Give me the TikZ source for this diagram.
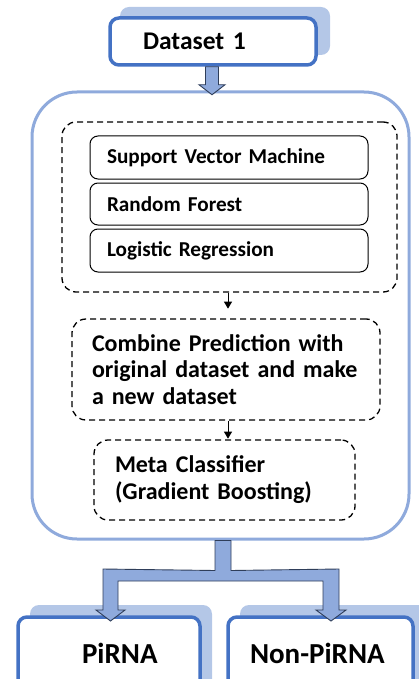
\documentclass[tikz,border=0pt]{standalone}
\usepackage{fontspec}
\setmainfont{Carlito}
\usetikzlibrary{calc,arrows.meta}
\definecolor{shadowblue}{HTML}{B4C7E7}
\definecolor{boxblue}{HTML}{4472C4}
\definecolor{lightblue}{HTML}{8FAADC}
\definecolor{arrowline}{HTML}{2F3E5A}
\begin{document}
\begin{tikzpicture}[x=1pt,y=-1pt,
  shadowbox/.style={fill=shadowblue, draw=none, rounded corners=9pt, inner sep=0pt},
  bluebox/.style={draw=boxblue, line width=3.5pt, fill=white, rounded corners=9pt, inner ysep=0pt, align=left, font=\fontsize{25.5}{30}\selectfont\bfseries},
  mainbox/.style={draw=lightblue, line width=3pt, rounded corners=45pt, inner sep=0pt},
  dashbox/.style={draw=black, line width=1.3pt, dash pattern=on 6pt off 4pt, rounded corners=14pt, inner sep=0pt},
  modelbox/.style={draw=black, line width=1pt, rounded corners=8pt, inner xsep=17pt, inner ysep=0pt, align=left, font=\fontsize{21.2}{24}\selectfont\bfseries},
  stepbox/.style={dashbox, align=left, font=\fontsize{24}{26.5}\selectfont\bfseries},
  blockarrow/.style={fill=lightblue, draw=arrowline, line width=0.9pt, line join=miter},
  smallarrow/.style={draw=black, line width=1pt, -{Triangle[length=7pt,width=8pt]}}
]
\useasboundingbox (0,0) rectangle (419,679);
\clip (0,0) rectangle (419,679);

% Dataset
\node[shadowbox, minimum width=210pt, minimum height=48pt] (dsshadow) at (225,31) {};
\node[bluebox, minimum width=206pt, minimum height=47pt, text width=140pt, inner xsep=33pt] (ds) at (213,41.5) {\mbox{Dataset 1}};

% main container
\node[mainbox, minimum width=377pt, minimum height=447pt] (main) at (220.5,315.5) {};

% block arrow dataset -> main
\coordinate (a1) at ($(ds.south)+(-1,0)$);
\draw[blockarrow] ($(a1)+(-6.5,0)$) -- ($(a1)+(6.5,0)$) -- ($(a1)+(6.5,18)$) -- ($(a1)+(13,18)$) -- ($(a1)+(0,28)$) -- ($(a1)+(-13,18)$) -- ($(a1)+(-6.5,18)$) -- cycle;

% base models group
\node[dashbox, minimum width=335pt, minimum height=170pt] (grp) at (229.5,207) {};
\node[modelbox, minimum width=278pt, minimum height=43pt, text width=244pt] (svm) at (229,157.5) {\mbox{Support Vector Machine}};
\node[modelbox, minimum width=278pt, minimum height=42pt, text width=244pt] (rf) at (229,204) {\mbox{Random Forest}};
\node[modelbox, minimum width=278pt, minimum height=43pt, text width=244pt] (lr) at (229,250.5) {\mbox{Logistic Regression}};

% combine step
\node[stepbox, minimum width=308pt, minimum height=101pt, text width=268pt, inner xsep=20pt] (comb) at (226,369.5) {\mbox{Combine Prediction with}\\\mbox{original dataset and make}\\\mbox{a new dataset}};

% meta classifier
\node[stepbox, minimum width=261pt, minimum height=80pt, text width=219pt, inner xsep=21pt, font=\fontsize{24}{27}\selectfont\bfseries] (meta) at (224.5,480) {\mbox{Meta Classifier}\\\mbox{(Gradient Boosting)}};

\draw[smallarrow] (grp.south -| 228,0) -- ++(0,16);
\draw[smallarrow] (comb.south -| 228,0) -- ++(0,18);

% outputs
\node[shadowbox, minimum width=182pt, minimum height=90pt] (pshadow) at (121,650) {};
\node[shadowbox, minimum width=190pt, minimum height=90pt] (nshadow) at (335,650) {};
\node[bluebox, minimum width=182pt, minimum height=72pt, text width=54pt, inner xsep=64pt, font=\fontsize{29}{32}\selectfont\bfseries] (pirna) at (109,653) {\mbox{PiRNA}};
\node[bluebox, minimum width=185pt, minimum height=72pt, text width=141pt, inner xsep=22pt, font=\fontsize{29}{32}\selectfont\bfseries] (non) at (320.5,653) {\mbox{Non-PiRNA}};

% split block arrow main -> outputs
\coordinate (s) at ($(main.south)+(2.5,0)$);
\coordinate (lp) at (110.5,621);
\coordinate (rp) at (331,621);
\draw[blockarrow] ($(s)+(-8,0)$) -- ($(s)+(8,0)$) -- ($(s)+(8,30)$) -- ($(rp)+(8,-52)$) -- ($(rp)+(8,-11)$) -- ($(rp)+(15,-11)$) -- (rp) -- ($(rp)+(-15,-11)$) -- ($(rp)+(-8,-11)$) -- ($(rp)+(-8,-40)$) -- ($(lp)+(7.5,-40)$) -- ($(lp)+(7.5,-11)$) -- ($(lp)+(14.5,-11)$) -- (lp) -- ($(lp)+(-14.5,-11)$) -- ($(lp)+(-7.5,-11)$) -- ($(lp)+(-7.5,-52)$) -- ($(s)+(-8,30)$) -- cycle;
\end{tikzpicture}
\end{document}
